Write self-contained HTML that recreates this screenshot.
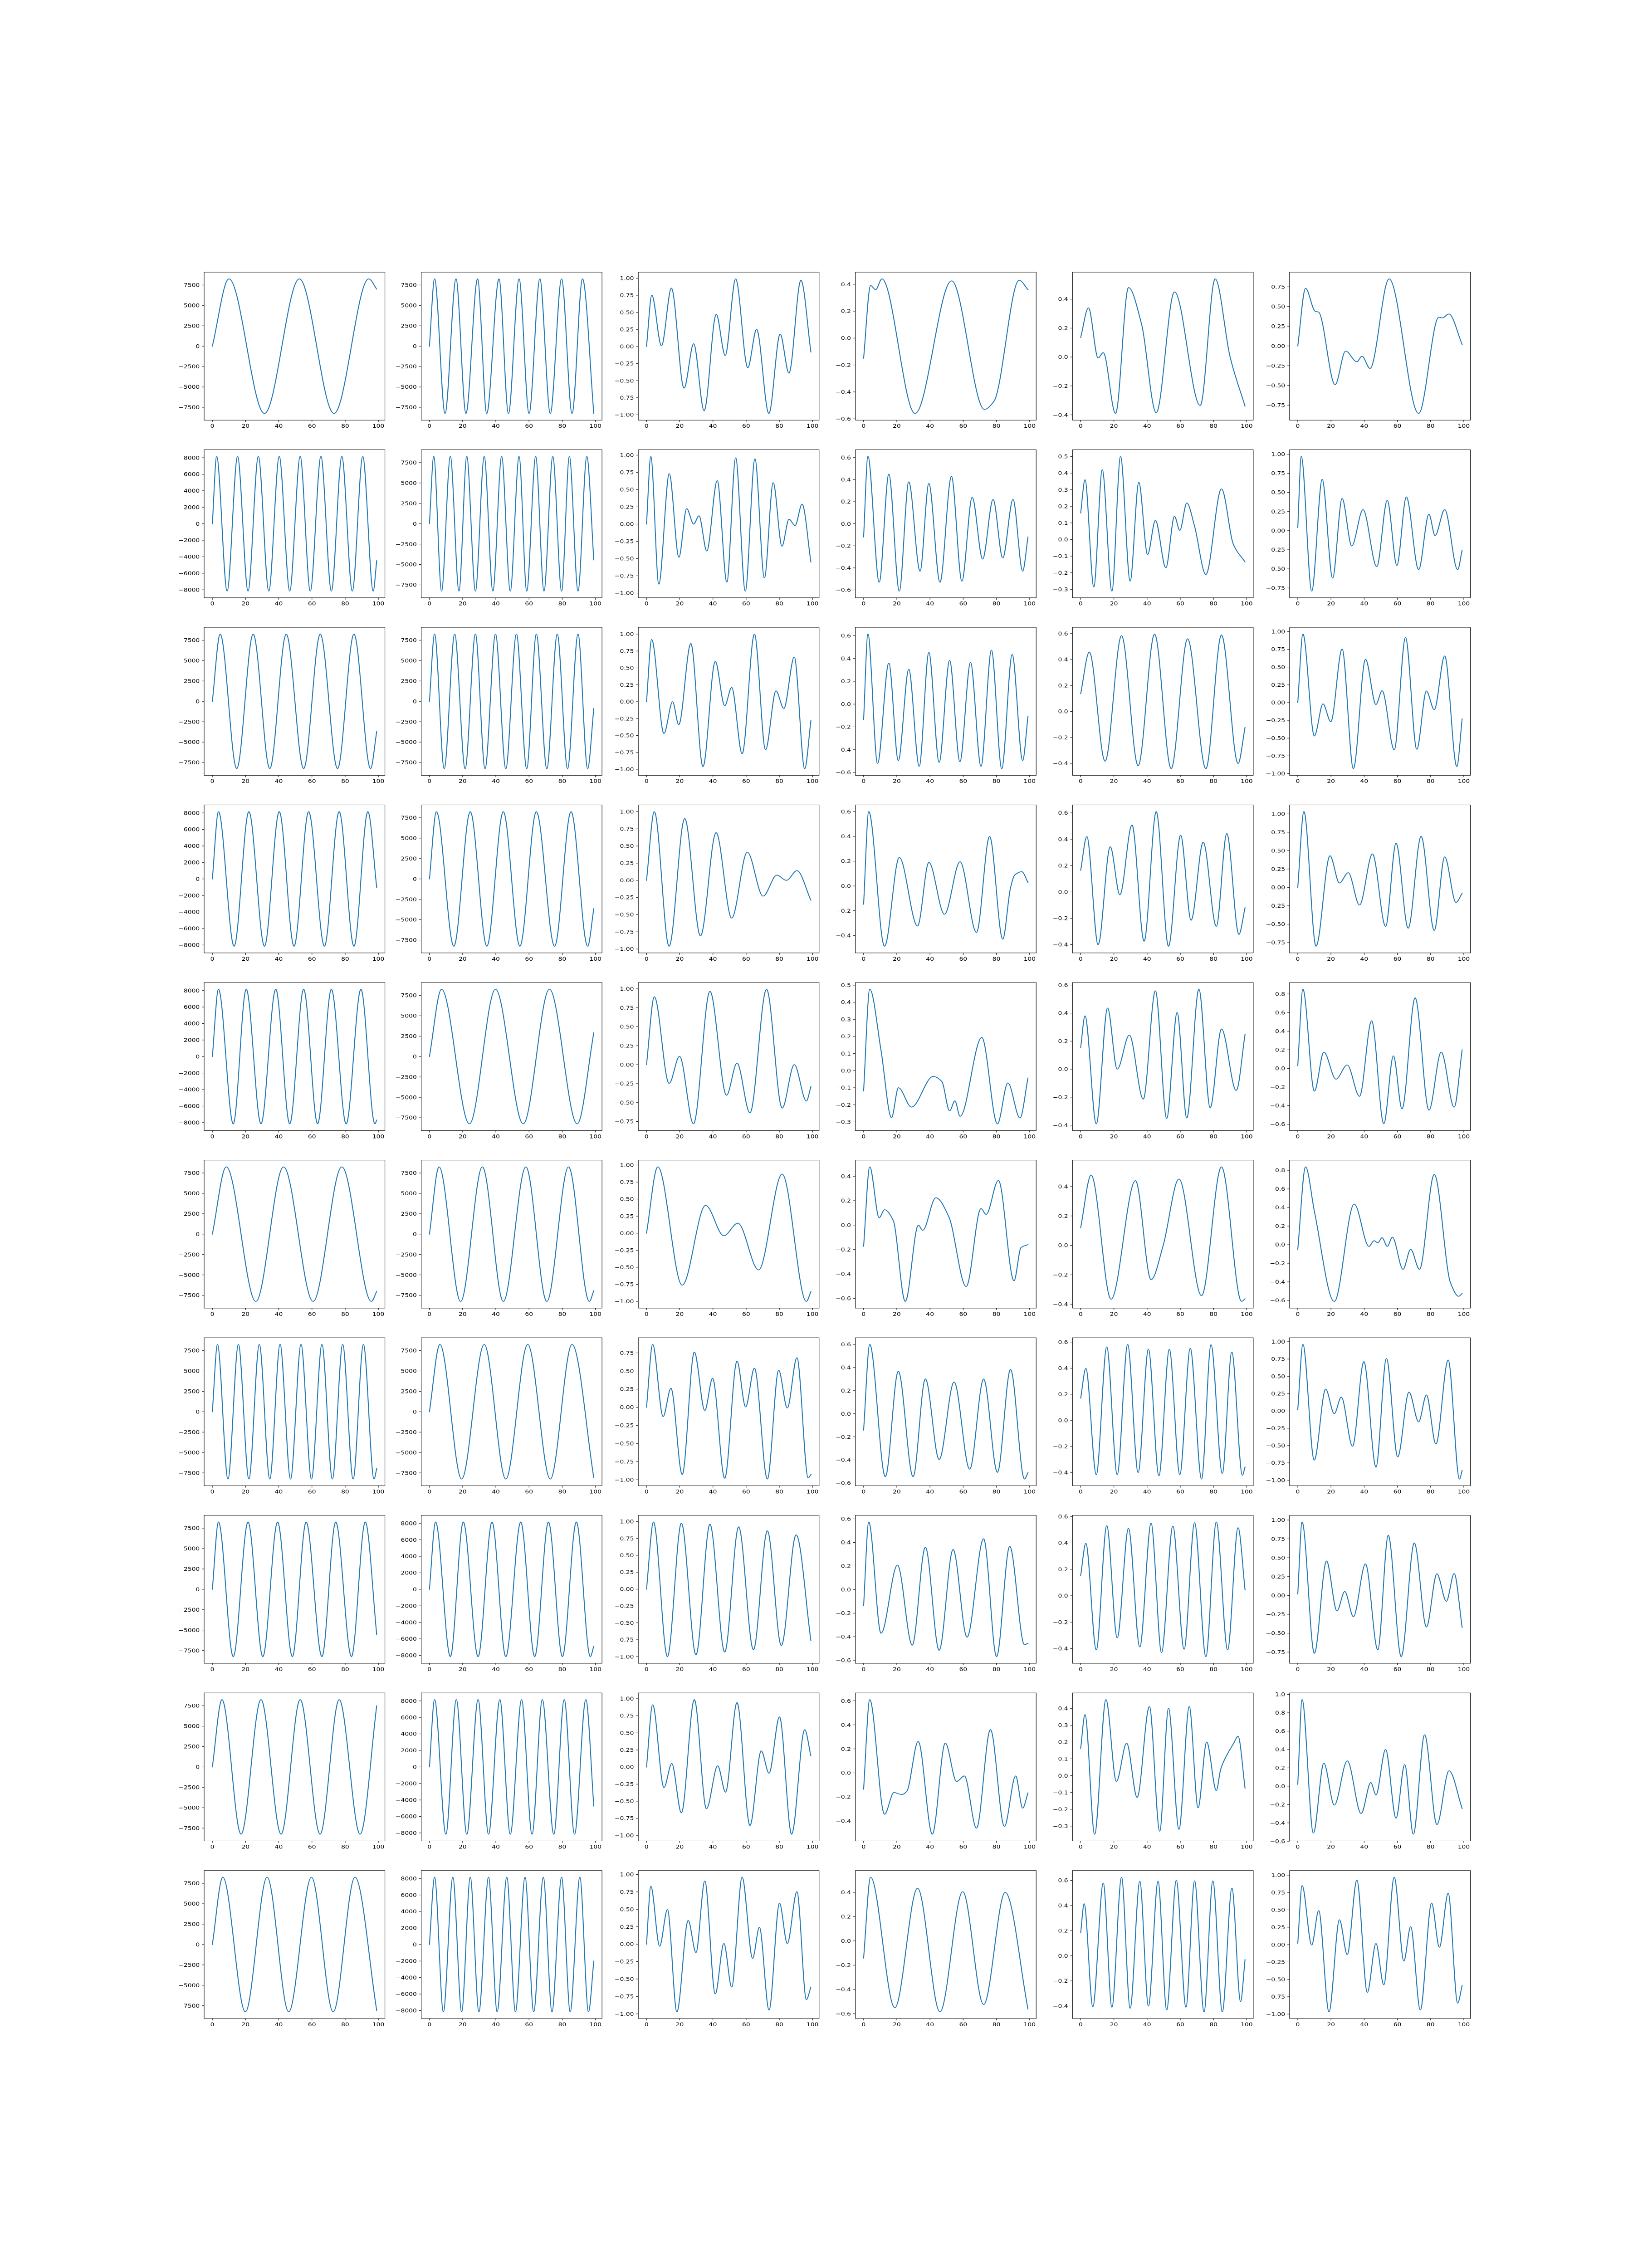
<!DOCTYPE html>
<html>
<head>
<meta charset="utf-8">
<style>
  html, body { margin: 0; padding: 0; background: #ffffff; overflow: hidden; width: 100%; height: 100%; }
  svg { display: block; position: absolute; left: 0; top: 0; width: 100vw; height: 100vh; }
  text { font-family: "DejaVu Sans", "Liberation Sans", sans-serif; font-size: 13.9px; fill: #000; }
</style>
</head>
<body>
<svg id="fig" xmlns="http://www.w3.org/2000/svg" viewBox="0 0 3600 6000" preserveAspectRatio="none">
  <rect x="0" y="0" width="3600" height="6000" fill="#ffffff"/>
</svg>
<script>
// ---------- data: pure-sine columns (peak x, trough x, amplitude, end value) ----------
const r1c1Peaks = [10, 52.4, 94.2];            const r1c1Troughs = [31.4, 73.3];
const r1c2Peaks = [3.1, 16, 29, 41.9, 54, 66.5, 79.6, 92.2]; const r1c2Troughs = [9.4, 22, 34.5, 47.6, 60, 72.8, 85.9];
const r2c1Peaks = [2.6, 15.2, 27.7, 40.3, 52.9, 65.4, 78, 90.6]; const r2c1Troughs = [8.9, 21.5, 34, 46.6, 59, 71.7, 84.3, 96.9];
const r2c2Peaks = [2.6, 12.6, 22.5, 33, 43.5, 54, 64, 74.3, 84.3, 94.8]; const r2c2Troughs = [7.3, 17.8, 27.7, 38.2, 48.7, 58.6, 69, 79.6, 89.5];
const r3c1Peaks = [4.7, 24.6, 44.5, 65, 85.3];  const r3c1Troughs = [14.7, 34.6, 55, 75.4, 95.3];
const r3c2Peaks = [3.1, 15.2, 27.7, 39.8, 52.4, 64.4, 77, 89.5]; const r3c2Troughs = [8.9, 21.5, 33.5, 46, 58.6, 70.7, 83.2, 95.3];
const r4c1Peaks = [3.7, 22, 40.3, 58, 76.4, 93.7]; const r4c1Troughs = [13.1, 31.4, 49.2, 67.5, 85.3];
const r4c2Peaks = [4.2, 24.6, 44.5, 64.4, 85.3]; const r4c2Troughs = [14.7, 34.6, 54.5, 75.4, 95.3];
const r5c1Peaks = [3.7, 20.4, 38.2, 55, 71.7, 89.5]; const r5c1Troughs = [12.6, 29.3, 46.6, 63.4, 80.6, 97.9];
const r5c2Peaks = [7.3, 39.8, 72.3];            const r5c2Troughs = [24.1, 56.5, 89];
const r6c1Peaks = [8.4, 42.9, 78];              const r6c1Troughs = [26.2, 60.7, 95.8];
const r6c2Peaks = [5.8, 31.9, 58.1, 83.8];      const r6c2Troughs = [18.8, 44.5, 70.7, 96.3];
const r7c1Peaks = [3.1, 15.7, 28.3, 40.8, 53.4, 66, 78.5, 91]; const r7c1Troughs = [9.4, 22, 34.6, 47.1, 59.7, 72.3, 84.8, 97.4];
const r7c2Peaks = [6.3, 33, 59.2, 85.9];        const r7c2Troughs = [19.4, 46, 72.8];
const r8c1Peaks = [3.7, 21.5, 39.3, 56.5, 74.3, 92.1]; const r8c1Troughs = [12.6, 30.4, 48.2, 66, 83.8];
const r8c2Peaks = [3.7, 20.4, 37.7, 55, 71.7, 88.5]; const r8c2Troughs = [12.6, 29.3, 46, 63.4, 80.1, 96.9];
const r9c1Peaks = [5.8, 29.3, 52.9, 76.4];      const r9c1Troughs = [17.3, 41.4, 64.9, 89];
const r9c2Peaks = [3.1, 16.2, 29.3, 42.4, 55.5, 68, 81.2, 94.2]; const r9c2Troughs = [9.9, 22.5, 35.6, 48.7, 61.8, 74.9, 87.4];
const r10c1Peaks = [6.3, 33, 59.7, 85.9];       const r10c1Troughs = [19.9, 46, 72.8];
const r10c2Peaks = [3.1, 14.1, 24.6, 35.6, 46.6, 57.6, 68.6, 79.6, 90.6]; const r10c2Troughs = [8.4, 19.4, 29.8, 40.8, 51.8, 62.8, 73.8, 84.8, 95.8];
const sineAmps = [[8250, 8250], [8150, 8250], [8250, 8250], [8150, 8250], [8150, 8250], [8250, 8250], [8250, 8250], [8250, 8150], [8250, 8150], [8250, 8150]];
const sineEnds = [[7000, -8250], [-4470, -4430], [-3700, -860], [-1030, -3650], [-7700, 2910], [-7025, -6940], [-6970, -8100], [-5550, -6890], [7500, -4740], [-8080, -2010]];

// ---------- data: mixed-signal columns (x, y) turning points ----------
const r1c3 = [[0,0],[3.2,0.75],[9,0.01],[15,0.855],[22.6,-0.61],[28.4,0.04],[34.7,-0.94],[42,0.47],[47.4,-0.13],[53.7,0.99],[61,-0.31],[66.3,0.25],[73.7,-0.98],[80.5,0.18],[85.8,-0.39],[93,0.97],[99,-0.08]];
const r1c4 = [[0,-0.15],[4.2,0.39],[7.3,0.36],[11,0.44],[31,-0.56],[53,0.425],[72.8,-0.53],[78.5,-0.47],[93.7,0.43],[99,0.36]];
const r1c5 = [[0,0.135],[4.7,0.34],[10.5,-0.006],[13.6,0.03],[21,-0.39],[28.8,0.48],[36.6,0.23],[45.5,-0.385],[56.5,0.45],[72,-0.335],[81,0.54],[90,0.0],[99,-0.34]];
const r1c6 = [[0,0],[4.7,0.73],[10.5,0.44],[12.5,0.43],[22.5,-0.49],[28.8,-0.064],[35.6,-0.2],[38.7,-0.13],[43.5,-0.285],[55,0.85],[72.8,-0.855],[85,0.365],[87,0.355],[91,0.405],[99,0.02]];
const r2c3 = [[0,0],[2.6,0.98],[7.4,-0.87],[13.7,0.73],[19.5,-0.48],[24.2,0.225],[28.4,0],[31.6,0.12],[36.3,-0.39],[42.6,0.63],[48.4,-0.84],[53.7,0.96],[59.5,-0.97],[65.3,0.945],[71,-0.78],[76.3,0.6],[81.6,-0.32],[85.8,0.07],[89.5,-0.02],[93.7,0.29],[99,-0.55]];
const r2c4 = [[0,-0.12],[2.6,0.61],[9.4,-0.53],[15.2,0.45],[21.5,-0.61],[27.2,0.38],[34,-0.43],[39.3,0.365],[46,-0.53],[52.9,0.43],[59.2,-0.52],[65.4,0.24],[71.7,-0.32],[78,0.22],[83.8,-0.31],[90,0.22],[95.8,-0.43],[99,-0.12]];
const r2c5 = [[0,0.16],[2.6,0.36],[7.9,-0.285],[13,0.42],[18.8,-0.31],[24,0.5],[29.8,-0.25],[35,0.345],[40.3,-0.09],[45,0.115],[51.3,-0.17],[56.5,0.14],[59.7,0.055],[63.9,0.22],[68.6,0.08],[75.4,-0.21],[84.8,0.305],[92,-0.03],[99,-0.135]];
const r2c6 = [[0,0.04],[2.1,0.97],[8.4,-0.79],[14.7,0.67],[21,-0.62],[26.7,0.42],[32.5,-0.2],[39.3,0.275],[47.6,-0.47],[53.9,0.395],[59.7,-0.455],[65.4,0.44],[72.8,-0.51],[79,0.215],[82.7,-0.065],[88.5,0.275],[96.3,-0.51],[99,-0.255]];
const r3c3 = [[0,0],[3.1,0.92],[10.5,-0.47],[15.7,0],[19.4,-0.34],[26.7,0.86],[34,-0.96],[41.4,0.595],[47.1,-0.06],[51.3,0.21],[57.6,-0.77],[65,1.0],[71.7,-0.71],[78,0.16],[82.7,-0.1],[89,0.66],[95.3,-0.99],[99,-0.28]];
const r3c4 = [[0,-0.138],[2.6,0.614],[8.4,-0.52],[15.2,0.36],[20.9,-0.495],[27.2,0.305],[33.5,-0.545],[39.3,0.453],[45.5,-0.51],[51.8,0.383],[58,-0.505],[64.4,0.365],[70.7,-0.545],[77,0.473],[83.2,-0.566],[89.5,0.435],[95.8,-0.495],[99,-0.108]];
const r3c5 = [[0,0.137],[5.2,0.457],[14.7,-0.383],[24.6,0.584],[34.6,-0.418],[44.5,0.596],[54.5,-0.44],[64.4,0.56],[75.4,-0.44],[84.8,0.589],[94.8,-0.4],[99,-0.123]];
const r3c6 = [[0,0],[3.1,0.965],[10,-0.47],[15.2,-0.018],[19.9,-0.27],[26.7,0.755],[33.5,-0.93],[40.8,0.61],[47.1,-0.027],[50.8,0.167],[58.1,-0.664],[64.9,0.916],[71.7,-0.657],[77.5,0.163],[82.2,-0.1],[88.5,0.657],[95.8,-0.9],[99,-0.23]];
const r4c3 = [[0,0],[4.7,1.0],[13.6,-0.96],[23,0.9],[32.5,-0.81],[41.9,0.694],[51.3,-0.55],[60.7,0.41],[70.2,-0.23],[78.5,0.075],[84.3,0],[90.6,0.14],[99,-0.29]];
const r4c4 = [[0,-0.148],[3.1,0.6],[12.6,-0.487],[21.5,0.23],[32.5,-0.324],[39.3,0.19],[48.7,-0.228],[58.1,0.195],[68,-0.376],[75.9,0.4],[83.8,-0.43],[88.5,-0.015],[91,0.087],[95.3,0.115],[99,0.028]];
const r4c5 = [[0,0.164],[3.7,0.42],[10.5,-0.4],[17.8,0.343],[23.6,-0.022],[30.9,0.508],[38.2,-0.374],[45.5,0.609],[52.9,-0.412],[60.2,0.43],[66.5,-0.215],[73.8,0.378],[81.7,-0.261],[88,0.443],[95.3,-0.322],[99,-0.12]];
const r4c6 = [[0,0],[3.7,1.03],[11,-0.8],[19.4,0.43],[25.1,0.06],[30.4,0.2],[37.2,-0.24],[45,0.455],[52.9,-0.53],[59.2,0.6],[66.5,-0.555],[74.3,0.695],[82.2,-0.585],[88.5,0.415],[95.3,-0.205],[99,-0.08]];
const r5c3 = [[0,0],[4.7,0.895],[13.6,-0.247],[19.9,0.11],[28.3,-0.78],[38.2,0.967],[48.2,-0.404],[54.5,0.02],[62.3,-0.636],[72.3,0.994],[81.7,-0.573],[89,0],[96.3,-0.48],[99,-0.29]];
const r5c4 = [[0,-0.119],[3.7,0.476],[10.5,0.118],[16.8,-0.275],[21,-0.1],[28.8,-0.213],[41.9,-0.034],[47.1,-0.063],[51.8,-0.235],[55,-0.177],[58.1,-0.267],[71.2,0.194],[80.6,-0.311],[86.9,-0.072],[94.2,-0.277],[99,-0.043]];
const r5c5 = [[0,0.155],[2.6,0.38],[9.4,-0.39],[16.2,0.436],[22,0],[29.3,0.243],[37.7,-0.214],[45,0.559],[51.8,-0.351],[58.1,0.404],[63.9,-0.348],[71.2,0.57],[78,-0.275],[84.8,0.286],[93.7,-0.152],[99,0.248]];
const r5c6 = [[0,0.03],[3.1,0.85],[10,-0.244],[15.7,0.175],[23,-0.115],[29.8,0.037],[37.2,-0.3],[44.5,0.512],[51.8,-0.595],[57.6,0.135],[62.8,-0.435],[70.7,0.758],[79,-0.448],[86.4,0.175],[94.2,-0.416],[99,0.2]];
const r6c3 = [[0,0],[6.8,0.973],[21.5,-0.762],[35.6,0.408],[46.6,-0.037],[55,0.147],[67.5,-0.538],[81.7,0.866],[96.3,-1.0],[99,-0.856]];
const r6c4 = [[0,-0.174],[3.7,0.477],[9.4,0.06],[12.6,0.126],[17.8,0.04],[25.1,-0.625],[33,0],[35.6,-0.043],[43.5,0.224],[51.3,0.07],[61.8,-0.503],[70.7,0.135],[73.8,0.088],[81.2,0.366],[90.6,-0.456],[94.8,-0.184],[99,-0.16]];
const r6c5 = [[0,0.12],[6.3,0.478],[18.3,-0.366],[33,0.44],[42.4,-0.233],[49.7,0],[59.2,0.451],[72.8,-0.342],[84.8,0.534],[96.9,-0.381],[99,-0.363]];
const r6c6 = [[0,-0.05],[4.7,0.837],[10,0.36],[22,-0.61],[34,0.437],[42.9,-0.018],[46,0.043],[48.2,0.02],[50.8,0.075],[53.9,-0.018],[57,0.08],[63.4,-0.265],[68,-0.05],[73.3,-0.265],[82.2,0.756],[92,-0.41],[96.9,-0.555],[99,-0.524]];
const r7c3 = [[0,0],[3.7,0.867],[10,-0.128],[14.7,0.263],[21.5,-0.928],[28.8,0.762],[35.1,-0.044],[39.8,0.4],[47.1,-0.98],[54.5,0.636],[59.7,0.005],[65,0.54],[72.8,-0.99],[79.6,0.51],[84.8,-0.01],[90.6,0.684],[97.4,-0.975],[99,-0.928]];
const r7c4 = [[0,-0.142],[3.7,0.6],[13.1,-0.545],[20.9,0.368],[29.8,-0.545],[37.2,0.302],[45.5,-0.396],[54.5,0.275],[63.9,-0.48],[72.3,0.3],[80.6,-0.507],[88.5,0.384],[96.9,-0.565],[99,-0.51]];
const r7c5 = [[0,0.17],[3.1,0.398],[9.4,-0.416],[15.7,0.563],[22,-0.416],[28.3,0.582],[34.6,-0.4],[40.8,0.545],[47.1,-0.425],[53.4,0.545],[59.7,-0.416],[66,0.552],[72.8,-0.45],[78.5,0.58],[85.3,-0.407],[91,0.524],[97.4,-0.421],[99,-0.358]];
const r7c6 = [[0,0.02],[3.1,0.96],[9.9,-0.71],[16.8,0.315],[22,-0.04],[26.2,0.2],[33,-0.51],[39.8,0.712],[47.1,-0.81],[53.4,0.758],[60.2,-0.663],[67,0.273],[72.8,-0.157],[77.5,0.23],[83.2,-0.478],[90.6,0.735],[97.4,-0.983],[99,-0.86]];
const r8c3 = [[0,0],[4.2,0.993],[12.6,-1.0],[21,0.976],[29.8,-0.973],[38.2,0.96],[47.1,-0.932],[55.5,0.922],[64.4,-0.898],[72.8,0.864],[81.2,-0.837],[90.1,0.803],[99,-0.763]];
const r8c4 = [[0,-0.138],[3.1,0.573],[10.5,-0.371],[20.4,0.208],[29.3,-0.472],[37.2,0.36],[45.5,-0.515],[53.9,0.34],[62.3,-0.404],[72.3,0.431],[80.1,-0.569],[88,0.367],[96.9,-0.468],[99,-0.456]];
const r8c5 = [[0,0.154],[3.1,0.397],[9.4,-0.41],[15.7,0.53],[22,-0.319],[28.8,0.51],[35.6,-0.388],[42.4,0.548],[48.7,-0.43],[55.5,0.527],[62.3,-0.405],[68.6,0.553],[75.4,-0.461],[81.7,0.558],[88.5,-0.41],[94.8,0.515],[99,0.045]];
const r8c6 = [[0,0.02],[2.6,0.973],[10,-0.766],[17.3,0.457],[23.6,-0.205],[28.3,0.053],[33.5,-0.28],[40.8,0.418],[48.2,-0.72],[54.5,0.797],[62.3,-0.81],[70.2,0.696],[77.5,-0.417],[83.8,0.287],[89.5,-0.077],[94.2,0.29],[99,-0.423]];
const r9c3 = [[0,0],[3.7,0.91],[10.5,-0.3],[15.2,0.052],[21,-0.67],[28.8,0.986],[36.1,-0.61],[42.9,0.018],[47.6,-0.368],[54.5,0.943],[62.3,-0.855],[69.1,0.237],[73.8,-0.09],[80.1,0.734],[87.4,-0.983],[95.3,0.546],[99,0.163]];
const r9c4 = [[0,-0.136],[3.7,0.61],[12.6,-0.344],[18.3,-0.163],[23,-0.18],[26,-0.153],[32.9,0.262],[41.4,-0.51],[49.2,0.249],[56,-0.071],[60.7,-0.025],[68,-0.46],[76.4,0.361],[84.8,-0.445],[91.6,-0.025],[95.8,-0.293],[99,-0.166]];
const r9c5 = [[0,0.163],[2.6,0.363],[8.4,-0.348],[15.2,0.452],[21.5,-0.034],[27.7,0.193],[34,-0.129],[41.4,0.411],[47.6,-0.33],[52.9,0.4],[59.2,-0.319],[65.4,0.411],[70.7,-0.191],[75.9,0.2],[81.7,-0.088],[84.3,0.037],[89,0.14],[92,0.19],[94.8,0.234],[99,-0.074]];
const r9c6 = [[0,0.02],[2.6,0.943],[9.4,-0.51],[15.7,0.25],[22,-0.206],[29.8,0.276],[38.2,-0.298],[44,0.04],[47.1,-0.094],[52.9,0.4],[59.2,-0.348],[64.4,0.236],[69.6,-0.523],[76.4,0.56],[83.8,-0.418],[91.1,0.168],[99,-0.243]];
const r10c3 = [[0,0],[2.6,0.83],[7.9,-0.028],[12.6,0.496],[18.3,-0.97],[25.1,0.34],[29.8,-0.12],[35.1,0.907],[41.4,-0.713],[46.6,0.01],[51.3,-0.615],[57.6,0.96],[63.9,-0.203],[68,0.242],[73.8,-0.944],[80.1,0.588],[84.8,0.01],[90.6,0.753],[96.3,-0.796],[99,-0.615]];
const r10c4 = [[0,-0.142],[4.2,0.525],[18.8,-0.551],[32.5,0.434],[46,-0.585],[59.7,0.406],[72.3,-0.525],[85.3,0.4],[99,-0.562]];
const r10c5 = [[0,0.183],[2.1,0.414],[7.3,-0.405],[13.6,0.578],[18.8,-0.409],[24.6,0.625],[29.8,-0.418],[35.6,0.593],[40.8,-0.4],[46.6,0.593],[51.8,-0.431],[57.6,0.6],[63.4,-0.409],[68.6,0.596],[74.3,-0.446],[79.6,0.596],[85.3,-0.446],[91.1,0.538],[96.3,-0.364],[99,-0.031]];
const r10c6 = [[0,0.02],[2.6,0.85],[8.4,-0.005],[12.6,0.49],[18.8,-0.967],[25.1,0.357],[29.8,-0.143],[35.6,0.927],[41.9,-0.687],[47.1,0.015],[51.8,-0.578],[58.1,0.97],[63.9,-0.236],[68,0.258],[73.8,-0.94],[80.6,0.597],[85.3,-0.038],[90.6,0.74],[96.3,-0.842],[99,-0.588]];

// y tick step per panel (tick labels derive from it)
const yTickSteps = [
  [2500, 2500, 0.25, 0.2, 0.2, 0.25],
  [2000, 2500, 0.25, 0.2, 0.1, 0.25],
  [2500, 2500, 0.25, 0.2, 0.2, 0.25],
  [2000, 2500, 0.25, 0.2, 0.2, 0.25],
  [2000, 2500, 0.25, 0.1, 0.2, 0.2],
  [2500, 2500, 0.25, 0.2, 0.2, 0.2],
  [2500, 2500, 0.25, 0.2, 0.2, 0.25],
  [2500, 2000, 0.25, 0.2, 0.2, 0.25],
  [2500, 2000, 0.25, 0.2, 0.1, 0.2],
  [2500, 2000, 0.25, 0.2, 0.2, 0.25]
];
const xTicks = [0, 20, 40, 60, 80, 100];
const xDomain = [0, 99];

const sinePeaks = [[r1c1Peaks, r1c2Peaks],[r2c1Peaks, r2c2Peaks],[r3c1Peaks, r3c2Peaks],[r4c1Peaks, r4c2Peaks],[r5c1Peaks, r5c2Peaks],[r6c1Peaks, r6c2Peaks],[r7c1Peaks, r7c2Peaks],[r8c1Peaks, r8c2Peaks],[r9c1Peaks, r9c2Peaks],[r10c1Peaks, r10c2Peaks]];
const sineTroughs = [[r1c1Troughs, r1c2Troughs],[r2c1Troughs, r2c2Troughs],[r3c1Troughs, r3c2Troughs],[r4c1Troughs, r4c2Troughs],[r5c1Troughs, r5c2Troughs],[r6c1Troughs, r6c2Troughs],[r7c1Troughs, r7c2Troughs],[r8c1Troughs, r8c2Troughs],[r9c1Troughs, r9c2Troughs],[r10c1Troughs, r10c2Troughs]];
const mixedSeries = [
  [r1c3, r1c4, r1c5, r1c6],[r2c3, r2c4, r2c5, r2c6],[r3c3, r3c4, r3c5, r3c6],[r4c3, r4c4, r4c5, r4c6],[r5c3, r5c4, r5c5, r5c6],
  [r6c3, r6c4, r6c5, r6c6],[r7c3, r7c4, r7c5, r7c6],[r8c3, r8c4, r8c5, r8c6],[r9c3, r9c4, r9c5, r9c6],[r10c3, r10c4, r10c5, r10c6]
];

// ---------- layout ----------
const NS = 'http://www.w3.org/2000/svg';
const svg = document.getElementById('fig');
const LEFT0 = 450, COLSTEP = 478.571, AXW = 398.571;
const TOP0 = 720, ROWSTEP = 469.83, AXH = 391.53;
const TICKLEN = 4.86, PAD = 4.86;

function mk(tag, attrs, parent) {
  const el = document.createElementNS(NS, tag);
  for (const k in attrs) el.setAttribute(k, attrs[k]);
  parent.appendChild(el);
  return el;
}

function sinePoints(peaks, troughs, amp, endVal) {
  const pts = [[0, 0]];
  peaks.forEach(x => pts.push([x, amp]));
  troughs.forEach(x => pts.push([x, -amp]));
  pts.sort((a, b) => a[0] - b[0]);
  pts.push([99, endVal]);
  return pts;
}

function monotoneTangents(pts) {
  const n = pts.length, d = [], m = new Array(n).fill(0);
  for (let i = 0; i < n - 1; i++) d.push((pts[i+1][1] - pts[i][1]) / (pts[i+1][0] - pts[i][0]));
  m[0] = d[0]; m[n-1] = d[n-2];
  for (let i = 1; i < n - 1; i++) {
    if (d[i-1] * d[i] <= 0) m[i] = 0;
    else {
      const h0 = pts[i][0] - pts[i-1][0], h1 = pts[i+1][0] - pts[i][0];
      const w1 = 2*h1 + h0, w2 = h1 + 2*h0;
      m[i] = (w1 + w2) / (w1 / d[i-1] + w2 / d[i]);
    }
  }
  return m;
}

function fmt(v, step) {
  let dec = 0;
  if (step < 1) dec = (Math.abs(step * 10 - Math.round(step * 10)) < 1e-9) ? 1 : 2;
  let s = Math.abs(v) < 1e-12 ? (0).toFixed(dec) : v.toFixed(dec);
  return s.replace('-', '\u2212');
}

function drawPanel(r, c, pts, step) {
  const L = LEFT0 + c * COLSTEP, T = TOP0 + r * ROWSTEP, B = T + AXH;
  const g = mk('g', {}, svg);
  
  

  const xr = xDomain[1] - xDomain[0];
  const x0 = xDomain[0] - 0.05 * xr, x1 = xDomain[1] + 0.05 * xr;
  let ymin = Infinity, ymax = -Infinity;
  pts.forEach(p => { ymin = Math.min(ymin, p[1]); ymax = Math.max(ymax, p[1]); });
  const yr = ymax - ymin;
  const y0 = ymin - 0.05 * yr, y1 = ymax + 0.05 * yr;
  const sx = v => L + (v - x0) / (x1 - x0) * AXW;
  const sy = v => B - (v - y0) / (y1 - y0) * AXH;

  const m = monotoneTangents(pts);
  let d = 'M' + sx(pts[0][0]).toFixed(2) + ' ' + sy(pts[0][1]).toFixed(2);
  for (let i = 0; i < pts.length - 1; i++) {
    const h = pts[i+1][0] - pts[i][0];
    const c1x = pts[i][0] + h/3, c1y = pts[i][1] + m[i]*h/3;
    const c2x = pts[i+1][0] - h/3, c2y = pts[i+1][1] - m[i+1]*h/3;
    d += ' C' + sx(c1x).toFixed(2) + ' ' + sy(c1y).toFixed(2) + ' ' + sx(c2x).toFixed(2) + ' ' + sy(c2y).toFixed(2) + ' ' + sx(pts[i+1][0]).toFixed(2) + ' ' + sy(pts[i+1][1]).toFixed(2);
  }
  const line = mk('path', { d: d, fill: 'none', stroke: '#1f77b4', 'stroke-width': 2.08, 'stroke-linejoin': 'round', 'stroke-linecap': 'square' }, g);
  
  

  const frame = mk('rect', { x: L, y: T, width: AXW, height: AXH, fill: 'none', stroke: '#000', 'stroke-width': 1.11 }, g);
  
  

  xTicks.forEach(v => {
    const x = sx(v);
    const tk = mk('line', { x1: x, y1: B, x2: x, y2: B + TICKLEN, stroke: '#000', 'stroke-width': 1.11 }, g);
    
    
    const tl = mk('text', { x: x, y: B + TICKLEN + PAD + 10.6, 'text-anchor': 'middle' }, g);
    
    
    tl.textContent = String(v);
  });

  const tol = 0.003 * (y1 - y0);
  let k = Math.ceil((y0 - tol) / step);
  for (; k * step <= y1 + tol; k++) {
    const v = k * step;
    const y = sy(v);
    const tk = mk('line', { x1: L - TICKLEN, y1: y, x2: L, y2: y, stroke: '#000', 'stroke-width': 1.11 }, g);
    
    
    const tl = mk('text', { x: L - TICKLEN - PAD, y: y + 5, 'text-anchor': 'end' }, g);
    
    
    tl.textContent = fmt(v, step);
  }
}

for (let r = 0; r < 10; r++) {
  for (let c = 0; c < 6; c++) {
    let pts;
    if (c < 2) pts = sinePoints(sinePeaks[r][c], sineTroughs[r][c], sineAmps[r][c], sineEnds[r][c]);
    else pts = mixedSeries[r][c - 2];
    drawPanel(r, c, pts, yTickSteps[r][c]);
  }
}
</script>
</body>
</html>
